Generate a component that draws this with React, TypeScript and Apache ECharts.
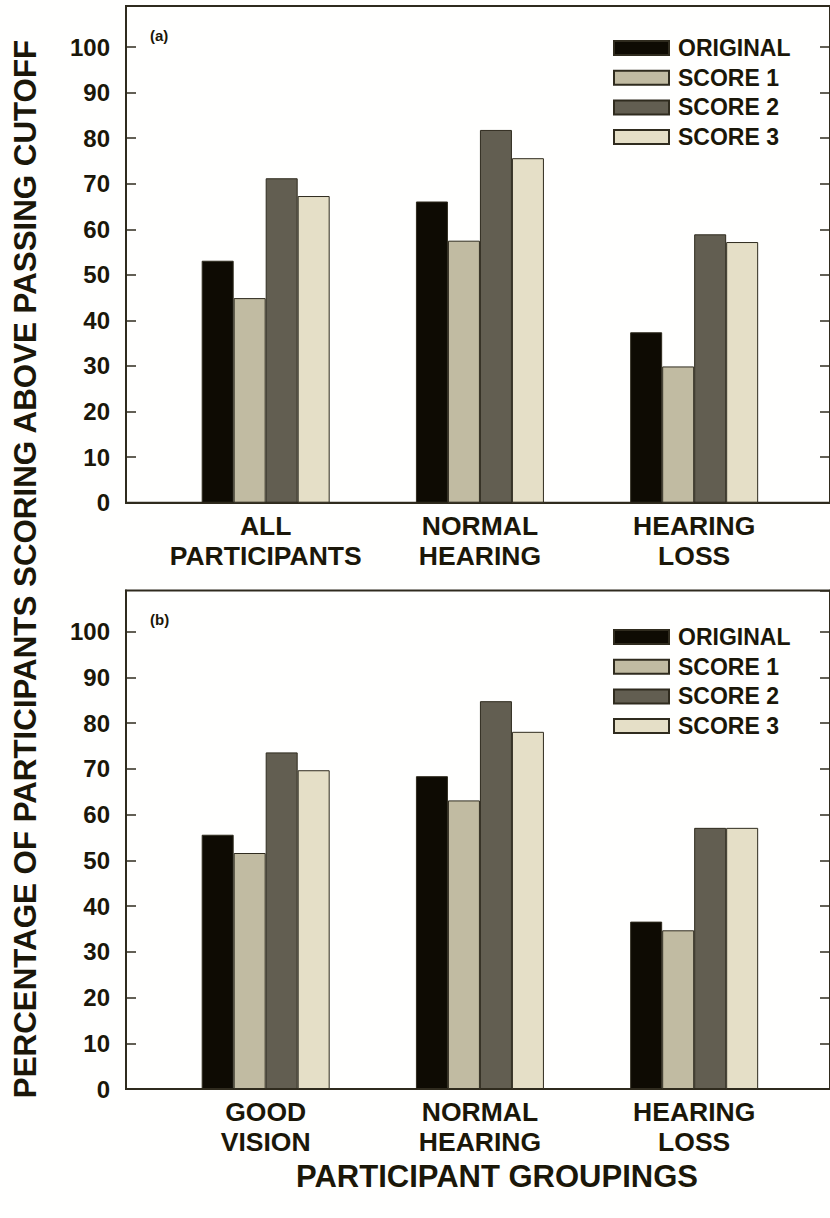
import React, { useEffect, useRef } from "react";
import * as echarts from "echarts";

// Series (score types) shown in both panels
const seriesNames = ["ORIGINAL", "SCORE 1", "SCORE 2", "SCORE 3"];
const seriesColors = ["#0e0b03", "#c1bba2", "#625e51", "#e5dfc7"];

// Participant groups for panel (a) and panel (b)
const groupsA = ["ALL\nPARTICIPANTS", "NORMAL\nHEARING", "HEARING\nLOSS"];
const groupsB = ["GOOD\nVISION", "NORMAL\nHEARING", "HEARING\nLOSS"];
const groupPositions = [1, 2, 3];

// Panel (a): percentage scoring above passing cutoff
const originalA = [53.1, 66.1, 37.4];
const score1A = [44.9, 57.5, 29.9];
const score2A = [71.2, 81.8, 58.9];
const score3A = [67.3, 75.6, 57.2];

// Panel (b): percentage scoring above passing cutoff
const originalB = [55.6, 68.4, 36.6];
const score1B = [51.6, 63.1, 34.7];
const score2B = [73.6, 84.8, 57.1];
const score3B = [69.7, 78.1, 57.1];

const panelValues = [
  [originalA, score1A, score2A, score3A],
  [originalB, score1B, score2B, score3B],
];
const panelGroups = [groupsA, groupsB];
const panelTags = ["(a)", "(b)"];

const yTitle = "PERCENTAGE OF PARTICIPANTS SCORING ABOVE PASSING CUTOFF";
const xTitle = "PARTICIPANT GROUPINGS";

const FONT = '"Liberation Sans", Arial, Helvetica, sans-serif';
const INK = "#1b1709";
const LINE = "#2f2b1e";

const GRID_LEFT = 126;
const grids = [
  { top: 6, height: 496.7 },
  { top: 590.5, height: 498.5 },
];

export default function App() {
  const ref = useRef<HTMLDivElement>(null);

  useEffect(() => {
    if (!ref.current) return;
    const chart = echarts.init(ref.current, null, { renderer: "svg" });

    const xAxis = panelGroups.map((labels, i) => ({
      type: "value",
      gridIndex: i,
      min: 0.348,
      max: 3.634,
      axisLine: { show: true, onZero: false, lineStyle: { color: LINE, width: 2 } },
      axisTick: { show: false },
      splitLine: { show: false },
      axisLabel: {
        customValues: groupPositions,
        formatter: (v: number) => {
          const idx = groupPositions.indexOf(Math.round(v * 1000) / 1000);
          return idx >= 0 ? labels[idx] : "";
        },
        margin: 8,
        fontSize: 26.5,
        fontWeight: "bold",
        lineHeight: 30,
        color: INK,
        fontFamily: FONT,
      },
    }));

    const yAxis: any[] = [];
    grids.forEach((_, i) => {
      yAxis.push({
        type: "value",
        gridIndex: i,
        position: "left",
        min: 0,
        max: 109,
        interval: 10,
        axisLine: { show: true, lineStyle: { color: LINE, width: 2 } },
        axisTick: { show: true, inside: true, length: 10, lineStyle: { color: LINE, width: 1.5 } },
        splitLine: { show: false },
        axisLabel: {
          showMaxLabel: false,
          margin: 16,
          fontSize: 24,
          fontWeight: "bold",
          color: INK,
          fontFamily: FONT,
        },
      });
      yAxis.push({
        type: "value",
        gridIndex: i,
        position: "right",
        min: 0,
        max: 109,
        interval: 10,
        axisLine: { show: true, lineStyle: { color: LINE, width: 2 } },
        axisTick: { show: true, inside: true, length: 10, lineStyle: { color: LINE, width: 1.5 } },
        splitLine: { show: false },
        axisLabel: { show: false },
      });
    });

    const series: any[] = [];
    panelValues.forEach((values, p) => {
      values.forEach((vals, s) => {
        series.push({
          type: "bar",
          name: seriesNames[s],
          xAxisIndex: p,
          yAxisIndex: p * 2,
          barWidth: 32,
          barGap: "0%",
          data: groupPositions.map((x, k) => [x, vals[k]]),
          itemStyle: { color: seriesColors[s], borderColor: LINE, borderWidth: 1 },
        });
      });
    });

    const legendTops = [36.5, 625.5];

    chart.setOption({
      animation: false,
      backgroundColor: "#fffffe",
      textStyle: { fontFamily: FONT },
      grid: grids.map((g) => ({
        left: GRID_LEFT,
        right: -1,
        top: g.top,
        height: g.height,
        show: true,
        borderColor: LINE,
        borderWidth: 2,
        backgroundColor: "transparent",
      })),
      legend: legendTops.map((top) => ({
        data: seriesNames,
        orient: "vertical",
        left: 613,
        top,
        padding: 0,
        icon: "rect",
        itemWidth: 55,
        itemHeight: 14,
        itemGap: 6.7,
        selectedMode: false,
        textStyle: {
          fontSize: 23,
          fontWeight: "bold",
          color: INK,
          fontFamily: FONT,
          lineHeight: 22,
          padding: [0, 0, 0, 4],
        },
      })),
      xAxis,
      yAxis,
      series,
      graphic: [
        {
          type: "text",
          x: 25,
          y: 569,
          rotation: Math.PI / 2,
          style: {
            text: yTitle,
            font: `bold 31.3px ${FONT}`,
            fill: INK,
            align: "center",
            verticalAlign: "middle",
          },
        },
        {
          type: "text",
          x: 497,
          y: 1176,
          style: {
            text: xTitle,
            font: `bold 31px ${FONT}`,
            fill: INK,
            align: "center",
            verticalAlign: "middle",
          },
        },
        ...panelTags.map((tag, i) => ({
          type: "text",
          x: 150,
          y: grids[i].top + 29,
          style: {
            text: tag,
            font: `bold 15px ${FONT}`,
            fill: INK,
            align: "left",
            verticalAlign: "middle",
          },
        })),
      ],
    });

    return () => chart.dispose();
  }, []);

  return (
    <div
      ref={ref}
      style={{ position: "absolute", left: 0, top: 0, width: 830, height: 1218 }}
    />
  );
}
